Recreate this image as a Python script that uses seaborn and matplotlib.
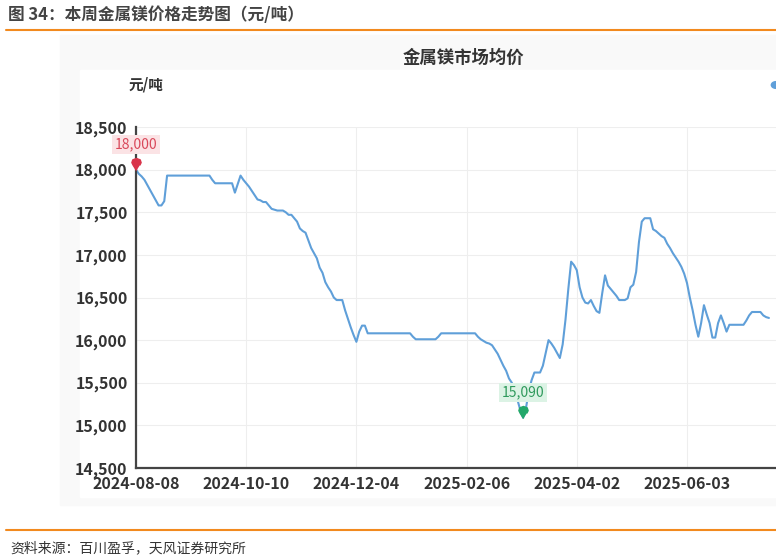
import numpy as np
import pandas as pd
import matplotlib
matplotlib.use("Agg")
import matplotlib.pyplot as plt
from matplotlib.patches import Rectangle
from matplotlib.lines import Line2D
import seaborn as sns

# magnesium average market price, yuan/ton, one value per trading day
price = [
    18000, 17950, 17920, 17880, 17820, 17760, 17700, 17640, 17580, 17580,
    17630, 17930, 17930, 17930, 17930, 17930, 17930, 17930, 17930, 17930,
    17930, 17930, 17930, 17930, 17930, 17930, 17930, 17880, 17840, 17840,
    17840, 17840, 17840, 17840, 17840, 17730, 17830, 17930, 17880, 17840,
    17800, 17750, 17700, 17650, 17640, 17620, 17620, 17580, 17540, 17530,
    17520, 17520, 17520, 17500, 17470, 17470, 17430, 17390, 17310, 17280,
    17260, 17170, 17080, 17020, 16960, 16850, 16790, 16680, 16620, 16570,
    16500, 16470, 16470, 16470, 16350, 16250, 16150, 16060, 15980, 16100,
    16170, 16170, 16080, 16080, 16080, 16080, 16080, 16080, 16080, 16080,
    16080, 16080, 16080, 16080, 16080, 16080, 16080, 16080, 16040, 16010,
    16010, 16010, 16010, 16010, 16010, 16010, 16010, 16040, 16080, 16080,
    16080, 16080, 16080, 16080, 16080, 16080, 16080, 16080, 16080, 16080,
    16080, 16040, 16010, 15990, 15970, 15960, 15940, 15890, 15840, 15770,
    15700, 15640, 15550, 15500, 15420, 15300, 15180, 15090, 15200, 15400,
    15530, 15620, 15620, 15620, 15700, 15850, 16000, 15960, 15910, 15850,
    15790, 15950, 16240, 16600, 16920, 16880, 16820, 16620, 16500, 16440,
    16430, 16470, 16400, 16340, 16320, 16550, 16760, 16640, 16600, 16560,
    16520, 16470, 16470, 16470, 16490, 16620, 16650, 16800, 17150, 17390,
    17430, 17430, 17430, 17300, 17280, 17250, 17220, 17200, 17130, 17080,
    17020, 16970, 16920, 16860, 16780, 16670, 16500, 16350, 16180, 16040,
    16200, 16410, 16300, 16200, 16030, 16030, 16200, 16290, 16200, 16100,
    16180, 16180, 16180, 16180, 16180, 16180, 16230, 16290, 16330, 16330,
    16330, 16330, 16290, 16270, 16260,
]
x_labels = ["2024-08-08", "2024-10-10", "2024-12-04", "2025-02-06", "2025-04-02", "2025-06-03"]
y_ticks = [14500, 15000, 15500, 16000, 16500, 17000, 17500, 18000, 18500]

df = pd.DataFrame({"idx": np.arange(len(price)), "price": price})

sns.set_style("white")
plt.rcParams["font.family"] = ["Noto Sans CJK SC", "DejaVu Sans"]

fig = plt.figure(figsize=(7.76, 5.59), dpi=100)

# faint grey panel behind the chart, like the screenshot
fig.patches.append(Rectangle((60 / 776, 1 - 505 / 559), 1, (505 - 35) / 559,
                             transform=fig.transFigure, color="#f9f9f9", zorder=-2))
fig.patches.append(Rectangle((80 / 776, 1 - 497 / 559), 1, (497 - 70) / 559,
                             transform=fig.transFigure, color="white", zorder=-1))

# header / footer rules
fig.add_artist(Line2D([6 / 776, 1], [1 - 30 / 559] * 2, color="#f28a1e", lw=1.5))
fig.add_artist(Line2D([6 / 776, 1], [1 - 530 / 559] * 2, color="#f28a1e", lw=1.5))
fig.text(8 / 776, 1 - 15 / 559, "图 34：本周金属镁价格走势图（元/吨）", fontsize=12,
         fontweight="bold", color="#444444", va="center", ha="left")
fig.text(10 / 776, 1 - 548 / 559, "资料来源：百川盈孚，天风证券研究所", fontsize=10,
         color="#333333", va="center", ha="left")

ax = fig.add_axes([136 / 776, 1 - 468 / 559, (776 - 136) / 776, (468 - 127) / 559])
ax.set_facecolor("none")
sns.lineplot(data=df, x="idx", y="price", ax=ax, color="#5f9fd9", lw=1.5)

ax.set_xlim(0, 226.5)
ax.set_ylim(14500, 18500)
ax.set_yticks(y_ticks)
ax.set_yticklabels([f"{v:,}" for v in y_ticks])
ax.set_xticks([i * 39 for i in range(len(x_labels))])
ax.set_xticklabels(x_labels)
ax.tick_params(axis="both", length=0, labelsize=11.5, labelcolor="#333333")
ax.tick_params(axis="y", pad=6)
ax.tick_params(axis="x", pad=6)
for lab in ax.get_xticklabels() + ax.get_yticklabels():
    lab.set_fontweight("bold")
ax.grid(True, color="#eeeeee", lw=0.8)
ax.set_xlabel("")
ax.set_ylabel("")
for side in ["top", "right"]:
    ax.spines[side].set_visible(False)
ax.spines["left"].set_color("#444444")
ax.spines["bottom"].set_color("#444444")
ax.spines["left"].set_linewidth(1.6)
ax.spines["bottom"].set_linewidth(1.6)

# pin markers for max / min (tip sits on the data point)
pin = [(0, 0), (-0.35, 0.55), (-0.5, 0.85), (-0.4, 1.15), (0, 1.3), (0.4, 1.15), (0.5, 0.85), (0.35, 0.55)]
i_max = int(np.argmax(price))
i_min = int(np.argmin(price))
ax.scatter([i_max], [price[i_max]], marker=pin, s=300, color="#d9344a", zorder=5, clip_on=False)
ax.scatter([i_min], [price[i_min]], marker=pin, s=300, color="#23a86b", zorder=5, clip_on=False)
ax.annotate(f"{price[i_max]:,}", (i_max, price[i_max]), xytext=(0, 18), textcoords="offset points",
            ha="center", va="center", fontsize=10, color="#d9485a",
            bbox=dict(boxstyle="square,pad=0.2", fc="#fbe3e5", ec="none"), zorder=6,
            annotation_clip=False)
ax.annotate(f"{price[i_min]:,}", (i_min, price[i_min]), xytext=(0, 18), textcoords="offset points",
            ha="center", va="center", fontsize=10, color="#2f9a5c",
            bbox=dict(boxstyle="square,pad=0.2", fc="#dcf3e5", ec="none"), zorder=6)

fig.text(463 / 776, 1 - 58 / 559, "金属镁市场均价", fontsize=12.5, fontweight="bold",
         color="#333333", ha="center", va="center")
fig.text(146 / 776, 1 - 85 / 559, "元/吨", fontsize=10.5, fontweight="bold",
         color="#333333", ha="center", va="center")
fig.add_artist(plt.Circle((776 / 776, 1 - 85 / 559), 0.006, transform=fig.transFigure,
                          color="#5f9fd9"))

fig.savefig("out.png", dpi=100)
